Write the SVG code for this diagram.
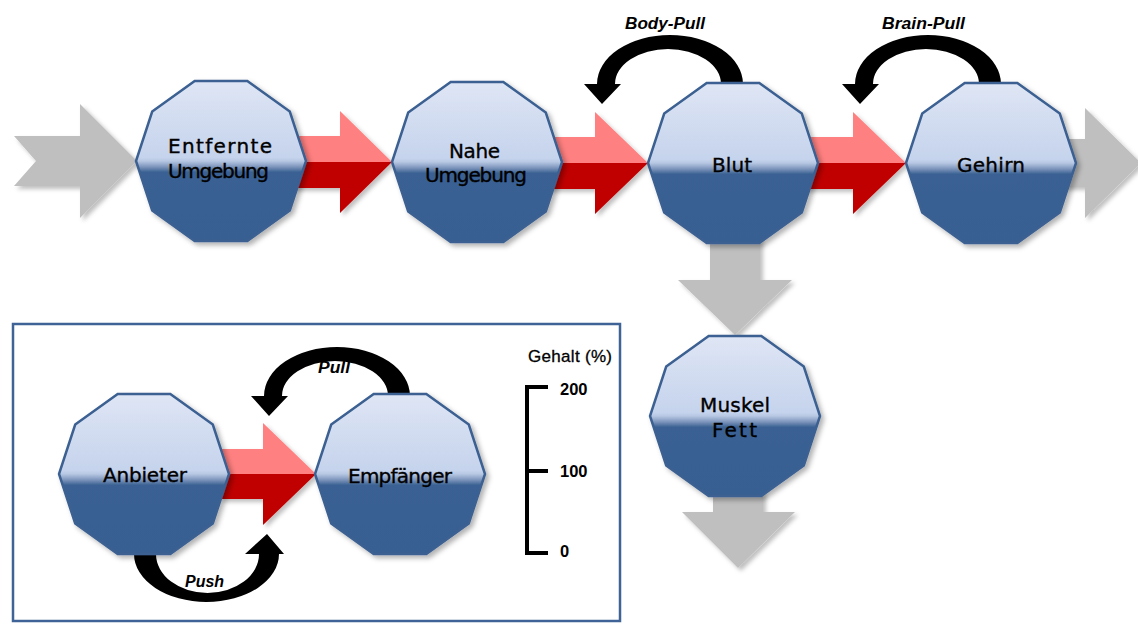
<svg xmlns="http://www.w3.org/2000/svg" xmlns:xlink="http://www.w3.org/1999/xlink" width="1138" height="626" viewBox="0 0 1138 626">
<defs>
<linearGradient id="nodeGrad" x1="0" y1="0" x2="0" y2="1">
<stop offset="0" stop-color="#dfe6f5"/>
<stop offset="0.48" stop-color="#c5d3ec"/>
<stop offset="0.5" stop-color="#b7c7e3"/>
<stop offset="0.535" stop-color="#7f97bd"/>
<stop offset="0.57" stop-color="#3a6193"/>
<stop offset="1" stop-color="#375f91"/>
</linearGradient>
<linearGradient id="redGrad" x1="0" y1="0" x2="0" y2="1">
<stop offset="0.5" stop-color="#ff8080"/>
<stop offset="0.5" stop-color="#c00000"/>
</linearGradient>
<filter id="shadow" x="-20%" y="-20%" width="140%" height="140%">
<feDropShadow dx="3" dy="3" stdDeviation="2.5" flood-color="#000" flood-opacity="0.3"/>
</filter>
<filter id="shadowSoft" x="-20%" y="-20%" width="140%" height="140%">
<feDropShadow dx="3" dy="3" stdDeviation="2" flood-color="#000" flood-opacity="0.25"/>
</filter>
<polygon id="deca" points="85,0 68.8,49.4 26.3,80 -26.3,80 -68.8,49.4 -85,0 -68.8,-49.4 -26.3,-80 26.3,-80 68.8,-49.4"/>
<path id="curl" d="M10,7 L10,1 A73,49 0 0 0 -136,1 L-149,1 L-131,21 L-112,1 L-118,1 A53,35 0 0 1 -12,1 L-12,7 Z"/>
<style>
.node { fill: url(#nodeGrad); stroke: #3b6091; stroke-width: 2.5; filter: url(#shadow); }
.lbl { font-family: 'DejaVu Sans', sans-serif; font-size: 20px; fill: #000; stroke: #000; stroke-width: 0.35; }
.gray { fill: #bfbfbf; filter: url(#shadowSoft); }
.red { fill: url(#redGrad); filter: url(#shadowSoft); }
.curl { fill: #000; }
.it { font-family: 'Liberation Sans', Arial, sans-serif; font-style: italic; font-weight: bold; font-size: 16px; fill: #000; }
.sc { font-family: 'Liberation Sans', Arial, sans-serif; font-size: 17px; fill: #000; stroke: #000; stroke-width: 0.3; }
.num { font-family: 'Liberation Sans', Arial, sans-serif; font-weight: bold; font-size: 16.5px; fill: #000; }
</style>
</defs>

<rect id="inset-box" x="13" y="324" width="607" height="297" fill="#ffffff" stroke="#3f6396" stroke-width="2.5"/>

<g id="connectors">
<polygon class="gray" points="14,136 80,136 80,104 137,161 80,218 80,186 14,186 36,161"/>
<polygon class="red" points="290,136 340,136 340,111 392,162 340,213 340,188 290,188"/>
<polygon class="red" points="545,137 595,137 595,112 648,163 595,214 595,189 545,189"/>
<polygon class="red" points="800,137 853,137 853,112 906,163 853,214 853,189 800,189"/>
<polygon class="gray" points="1060,139 1085,139 1085,108 1141,163 1085,218 1085,187 1060,187"/>
<polygon class="gray" points="710,235 760,235 760,280 792,280 735,335 678,280 710,280"/>
<polygon class="gray" points="713,490 763,490 763,512 795,512 738,568 682,512 713,512"/>
<polygon class="red" points="220,449 263,449 263,423 316,474 263,525 263,499 220,499"/>
<use class="curl" href="#curl" x="733" y="83"/>
<use class="curl" href="#curl" x="991" y="83"/>
<use class="curl" href="#curl" x="400" y="395"/>
<path class="curl" d="M134,548 L134,554 A72.5,48 0 0 0 279,554 L284,554 L267,534 L245,554 L259,554 A51.5,39 0 0 1 156,554 L156,548 Z"/>
<text class="it" x="625" y="29" textLength="80" lengthAdjust="spacingAndGlyphs">Body-Pull</text>
<text class="it" x="882" y="29" textLength="83" lengthAdjust="spacingAndGlyphs">Brain-Pull</text>
<text class="it" x="318" y="373" textLength="32" lengthAdjust="spacingAndGlyphs">Pull</text>
<text class="it" x="185" y="587" textLength="39" lengthAdjust="spacingAndGlyphs">Push</text>
</g>

<g id="node-entfernte">
<use class="node" href="#deca" x="221" y="161"/>
<text class="lbl" x="168" y="153" textLength="104">Entfernte</text>
<text class="lbl" x="168" y="178" textLength="101">Umgebung</text>
</g>
<g id="node-nahe">
<use class="node" href="#deca" x="477" y="162"/>
<text class="lbl" x="449" y="158" textLength="51">Nahe</text>
<text class="lbl" x="425" y="182" textLength="102">Umgebung</text>
</g>
<g id="node-blut">
<use class="node" href="#deca" x="733" y="163"/>
<text class="lbl" x="712" y="172" textLength="40">Blut</text>
</g>
<g id="node-gehirn">
<use class="node" href="#deca" x="991" y="163"/>
<text class="lbl" x="957" y="172" textLength="68">Gehirn</text>
</g>
<g id="node-muskel">
<use class="node" href="#deca" x="735" y="416"/>
<text class="lbl" x="700" y="412" textLength="70">Muskel</text>
<text class="lbl" x="712" y="437" textLength="45">Fett</text>
</g>
<g id="node-anbieter">
<use class="node" href="#deca" x="144" y="474"/>
<text class="lbl" x="103" y="482" textLength="84">Anbieter</text>
</g>
<g id="node-empfaenger">
<use class="node" href="#deca" x="400" y="474"/>
<text class="lbl" x="348" y="483" textLength="104">Empfänger</text>
</g>

<g id="scale">
<text class="sc" x="528" y="362" textLength="84">Gehalt (%)</text>
<path d="M548,387 H527 V553 H548 M527,471 H548" fill="none" stroke="#000" stroke-width="4"/>
<text class="num" x="560" y="395">200</text>
<text class="num" x="560" y="477">100</text>
<text class="num" x="560" y="557">0</text>
</g>
</svg>
